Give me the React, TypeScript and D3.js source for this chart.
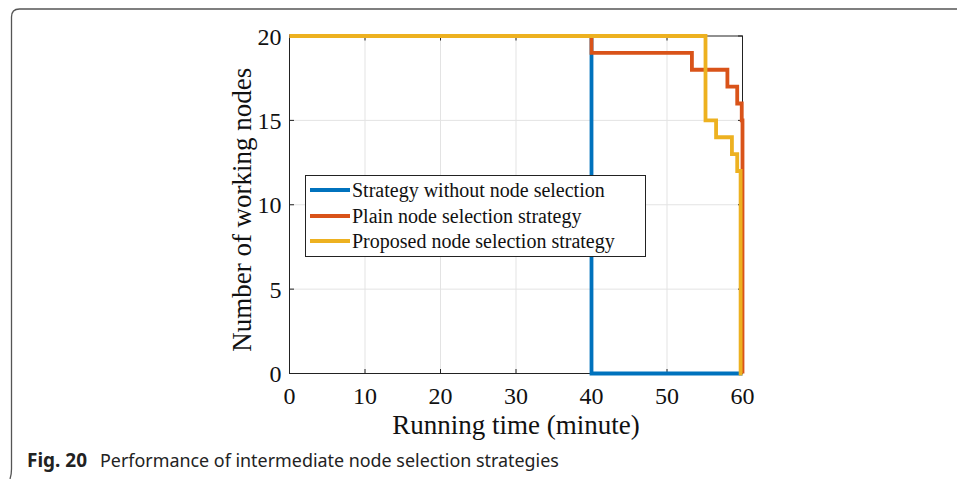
import React from "react";
import * as d3 from "d3";

const xTicks = [0, 10, 20, 30, 40, 50, 60];
const yTicks = [0, 5, 10, 15, 20];

const seriesNames = [
  "Strategy without node selection",
  "Plain node selection strategy",
  "Proposed node selection strategy",
];
const seriesColors = ["#0072BD", "#D95319", "#EDB120"];

const timeWithout = [0, 40, 60];
const nodesWithout = [20, 0, 0];

const timePlain = [0, 40, 53.3, 58.0, 59.3, 59.9, 60];
const nodesPlain = [20, 19, 18, 17, 16, 15, 0];

const timeProposed = [0, 55.1, 56.5, 58.6, 59.3, 59.75, 60];
const nodesProposed = [20, 15, 14, 13, 12, 0, 0];

const xLabel = "Running time (minute)";
const yLabel = "Number of working nodes";
const captionBold = "Fig. 20";
const captionText = "Performance of intermediate node selection strategies";

export default function App() {
  const W = 957;
  const H = 479;
  const left = 289.5;
  const right = 742.5;
  const top = 36;
  const bottom = 373.5;
  const x = d3.scaleLinear().domain([0, 60]).range([left, right]);
  const y = d3.scaleLinear().domain([0, 20]).range([bottom, top]);

  const series = [
    { t: timeWithout, n: nodesWithout },
    { t: timePlain, n: nodesPlain },
    { t: timeProposed, n: nodesProposed },
  ];
  const line = d3
    .line<[number, number]>()
    .x((d) => x(d[0]))
    .y((d) => y(d[1]))
    .curve(d3.curveStepAfter);

  const serif = "'Liberation Serif', 'Times New Roman', serif";
  const sans = "'Noto Sans', 'Open Sans', sans-serif";

  const legX = 305.5;
  const legY = 175.5;
  const legW = 340;
  const legH = 81;
  const rowYs = [190, 216, 241];

  return (
    <svg
      width={W}
      height={H}
      style={{ position: "absolute", left: 0, top: 0, display: "block" }}
    >
      <rect x={0} y={0} width={W} height={H} fill="#fff" />
      {/* frame */}
      <path
        d={`M 10 479 Q 11.5 475 11.5 469 L 11.5 17 Q 11.5 9 19.5 9 L 957 9`}
        fill="none"
        stroke="#555"
        strokeWidth={1.3}
      />
      {/* grid */}
      {xTicks.slice(1, -1).map((t) => (
        <line key={"gx" + t} x1={x(t)} x2={x(t)} y1={top} y2={bottom} stroke="#e3e3e3" strokeWidth={1} />
      ))}
      {yTicks.slice(1, -1).map((t) => (
        <line key={"gy" + t} x1={left} x2={right} y1={y(t)} y2={y(t)} stroke="#e3e3e3" strokeWidth={1} />
      ))}
      {/* ticks */}
      {xTicks.map((t) => (
        <g key={"tx" + t}>
          <line x1={x(t)} x2={x(t)} y1={bottom} y2={bottom - 4.5} stroke="#222" />
          <line x1={x(t)} x2={x(t)} y1={top} y2={top + 4.5} stroke="#222" />
          <text x={x(t)} y={bottom + 30} textAnchor="middle" fontFamily={serif} fontSize={24} fill="#111">
            {t}
          </text>
        </g>
      ))}
      {yTicks.map((t) => (
        <g key={"ty" + t}>
          <line x1={left} x2={left + 4.5} y1={y(t)} y2={y(t)} stroke="#222" />
          <line x1={right} x2={right - 4.5} y1={y(t)} y2={y(t)} stroke="#222" />
          <text x={left - 8} y={y(t) + 8.5} textAnchor="end" fontFamily={serif} fontSize={24} fill="#111">
            {t}
          </text>
        </g>
      ))}
      {/* axes box */}
      <rect x={left} y={top} width={right - left} height={bottom - top} fill="none" stroke="#222" strokeWidth={1} />
      {/* series */}
      {series.map((s, i) => (
        <path
          key={"s" + i}
          d={line(s.t.map((tt, j) => [tt, s.n[j]] as [number, number])) || ""}
          fill="none"
          stroke={seriesColors[i]}
          strokeWidth={3.8}
          strokeLinejoin="miter"
        />
      ))}
      {/* labels */}
      <text x={(left + right) / 2} y={434} textAnchor="middle" fontFamily={serif} fontSize={27} fill="#111">
        {xLabel}
      </text>
      <text
        transform={`translate(251, ${(top + bottom) / 2 + 5}) rotate(-90)`}
        textAnchor="middle"
        fontFamily={serif}
        fontSize={27}
        fill="#111"
      >
        {yLabel}
      </text>
      {/* legend */}
      <rect x={legX} y={legY} width={legW} height={legH} fill="#fff" stroke="#222" strokeWidth={1} />
      {seriesNames.map((name, i) => (
        <g key={"lg" + i}>
          <line x1={310} x2={350} y1={rowYs[i]} y2={rowYs[i]} stroke={seriesColors[i]} strokeWidth={3.8} />
          <text x={352} y={rowYs[i] + 7} fontFamily={serif} fontSize={20} fill="#111">
            {name}
          </text>
        </g>
      ))}
      {/* caption */}
      <text
        x={27}
        y={467}
        fontFamily={sans}
        fontSize={19.5}
        fontWeight="bold"
        fill="#222"
        textLength={60}
        lengthAdjust="spacingAndGlyphs"
      >
        {captionBold}
      </text>
      <text x={100} y={467} fontFamily={sans} fontSize={17.9} fill="#222">
        {captionText}
      </text>
    </svg>
  );
}
